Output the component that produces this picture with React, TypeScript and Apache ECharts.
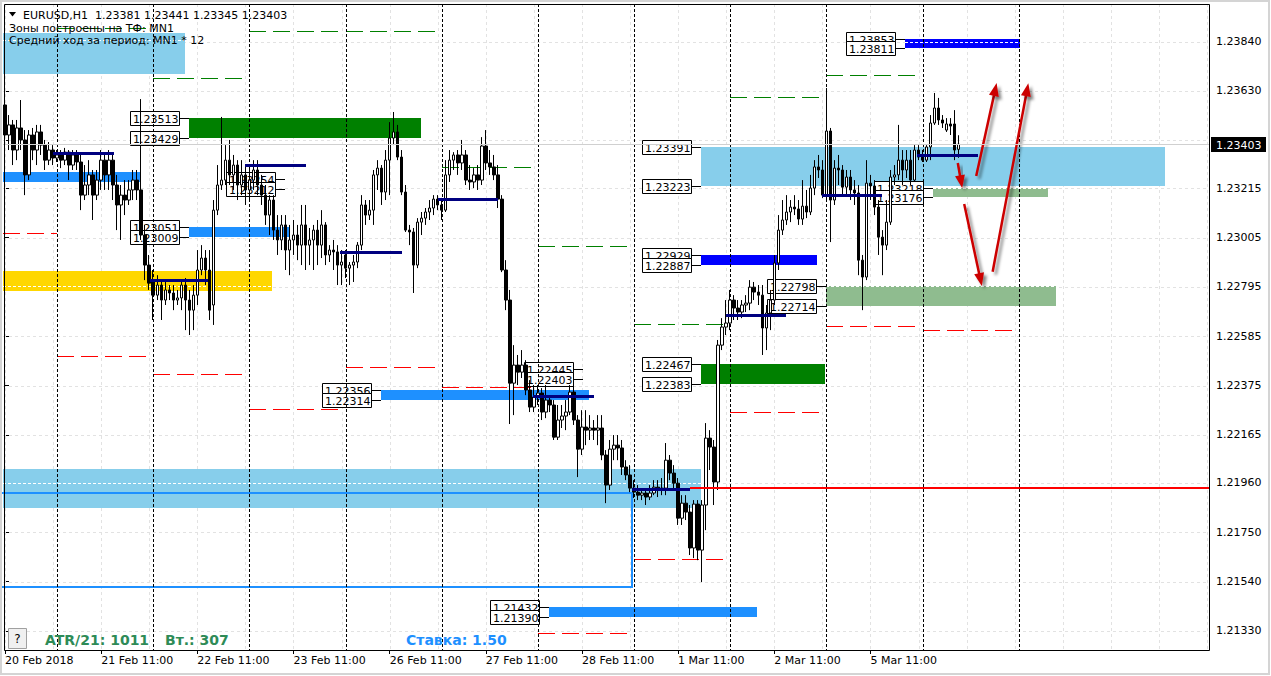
import React, { useEffect, useRef } from 'react';
import * as echarts from 'echarts';

// ---------- time axis ----------
const tradingDays = ['20 Feb', '21 Feb', '22 Feb', '23 Feb', '26 Feb', '27 Feb', '28 Feb', '1 Mar', '2 Mar', '5 Mar', '6 Mar'];
const firstDayStartHour = 11;
const lastDayEndHour = 9;
const emptyBarsRight = 62;
const timeLabels = ['20 Feb 2018', '21 Feb 11:00', '22 Feb 11:00', '23 Feb 11:00', '26 Feb 11:00', '27 Feb 11:00', '28 Feb 11:00', '1 Mar 11:00', '2 Mar 11:00', '5 Mar 11:00'];
const timeLabelBars = [0, 24, 48, 72, 96, 120, 144, 168, 192, 216];
const dayStartBars = [13, 37, 61, 85, 109, 133, 157, 181, 205, 229, 253];

// ---------- price axis ----------
const priceTicks = [1.2133, 1.2154, 1.2175, 1.2196, 1.22165, 1.22375, 1.22585, 1.22795, 1.23005, 1.23215, 1.2342, 1.2363, 1.2384];
const priceLabels = [1.2133, 1.2154, 1.2175, 1.2196, 1.22165, 1.22375, 1.22585, 1.22795, 1.23005, 1.23215, 1.2363, 1.2384];
const priceMin = 1.212485;
const priceMax = 1.24;

// ---------- EURUSD H1 candles: [open, close, low, high] ----------
const ohlc: number[][] = [
  [1.23570, 1.23442, 1.23357, 1.23642], [1.23442, 1.23485, 1.23378, 1.23527], [1.23485, 1.23378, 1.23314, 1.23506], [1.23378, 1.23472, 1.23335, 1.23506],
  [1.23472, 1.23421, 1.23378, 1.23591], [1.23421, 1.23272, 1.23186, 1.23463], [1.23272, 1.23442, 1.23250, 1.23463], [1.23442, 1.23378, 1.23335, 1.23472],
  [1.23378, 1.23455, 1.23314, 1.23485], [1.23455, 1.23399, 1.23357, 1.23485], [1.23399, 1.23335, 1.23293, 1.23421], [1.23335, 1.23378, 1.23314, 1.23412],
  [1.23378, 1.23344, 1.23314, 1.23399], [1.23344, 1.23357, 1.23327, 1.23378], [1.23357, 1.23335, 1.23301, 1.23378], [1.23335, 1.23369, 1.23314, 1.23387],
  [1.23369, 1.23314, 1.23250, 1.23378], [1.23314, 1.23357, 1.23293, 1.23378], [1.23357, 1.23327, 1.23293, 1.23378], [1.23327, 1.23186, 1.23122, 1.23357],
  [1.23186, 1.23229, 1.23165, 1.23314], [1.23229, 1.23272, 1.23186, 1.23335], [1.23272, 1.23186, 1.23080, 1.23293], [1.23186, 1.23250, 1.23165, 1.23293],
  [1.23250, 1.23335, 1.23208, 1.23378], [1.23335, 1.23272, 1.23208, 1.23357], [1.23272, 1.23335, 1.23208, 1.23378], [1.23335, 1.23229, 1.23165, 1.23357],
  [1.23229, 1.23144, 1.23037, 1.23272], [1.23144, 1.23186, 1.22995, 1.23229], [1.23186, 1.23165, 1.23101, 1.23250], [1.23165, 1.23208, 1.23144, 1.23250],
  [1.23208, 1.23250, 1.23165, 1.23293], [1.23250, 1.23208, 1.23165, 1.23293], [1.23208, 1.23016, 1.22995, 1.23595], [1.23016, 1.22888, 1.22824, 1.23059],
  [1.22888, 1.22811, 1.22782, 1.22931], [1.22824, 1.22760, 1.22654, 1.22867], [1.22760, 1.22803, 1.22739, 1.22845], [1.22803, 1.22739, 1.22654, 1.22824],
  [1.22739, 1.22782, 1.22718, 1.22816], [1.22782, 1.22769, 1.22739, 1.22803], [1.22769, 1.22739, 1.22696, 1.22803], [1.22739, 1.22748, 1.22718, 1.22782],
  [1.22748, 1.22803, 1.22696, 1.22824], [1.22803, 1.22739, 1.22611, 1.22833], [1.22739, 1.22696, 1.22590, 1.22782], [1.22696, 1.22760, 1.22611, 1.22803],
  [1.22760, 1.22867, 1.22718, 1.22952], [1.22867, 1.22918, 1.22845, 1.22973], [1.22918, 1.22867, 1.22803, 1.22952], [1.22867, 1.22696, 1.22654, 1.22952],
  [1.22718, 1.23122, 1.22633, 1.23165], [1.23122, 1.23229, 1.23101, 1.23314], [1.23229, 1.23250, 1.23208, 1.23519], [1.23250, 1.23335, 1.23229, 1.23399],
  [1.23335, 1.23272, 1.23229, 1.23421], [1.23272, 1.23314, 1.23208, 1.23357], [1.23314, 1.23229, 1.23165, 1.23335], [1.23229, 1.23272, 1.23186, 1.23335],
  [1.23272, 1.23208, 1.23144, 1.23314], [1.23208, 1.23250, 1.23165, 1.23314], [1.23250, 1.23293, 1.23208, 1.23335], [1.23293, 1.23229, 1.23186, 1.23335],
  [1.23229, 1.23186, 1.23144, 1.23272], [1.23186, 1.23101, 1.23059, 1.23229], [1.23101, 1.23165, 1.23016, 1.23186], [1.23165, 1.23037, 1.22995, 1.23186],
  [1.23037, 1.22995, 1.22931, 1.23101], [1.22995, 1.23059, 1.22952, 1.23101], [1.23059, 1.22952, 1.22867, 1.23101], [1.22952, 1.22995, 1.22845, 1.23059],
  [1.22995, 1.23016, 1.22931, 1.23080], [1.23016, 1.22973, 1.22909, 1.23059], [1.22973, 1.23059, 1.22888, 1.23144], [1.23059, 1.22973, 1.22867, 1.23144],
  [1.22973, 1.22995, 1.22888, 1.23046], [1.22995, 1.23037, 1.22867, 1.23059], [1.23037, 1.22973, 1.22888, 1.23080], [1.22973, 1.23059, 1.22918, 1.23122],
  [1.23059, 1.22931, 1.22888, 1.23071], [1.22931, 1.22952, 1.22901, 1.22973], [1.22952, 1.22944, 1.22867, 1.22995], [1.22944, 1.22888, 1.22803, 1.22973],
  [1.22888, 1.22901, 1.22803, 1.22952], [1.22931, 1.22875, 1.22833, 1.22952], [1.22875, 1.22888, 1.22803, 1.22901], [1.22888, 1.22901, 1.22816, 1.22931],
  [1.22901, 1.22973, 1.22875, 1.22986], [1.22973, 1.23144, 1.22952, 1.23186], [1.23144, 1.23101, 1.23059, 1.23165], [1.23101, 1.23122, 1.23080, 1.23165],
  [1.23122, 1.23272, 1.23059, 1.23293], [1.23272, 1.23301, 1.23208, 1.23335], [1.23301, 1.23199, 1.23144, 1.23314], [1.23199, 1.23335, 1.23165, 1.23378],
  [1.23335, 1.23429, 1.23186, 1.23497], [1.23429, 1.23455, 1.23399, 1.23540], [1.23455, 1.23348, 1.23335, 1.23485], [1.23348, 1.23199, 1.23186, 1.23378],
  [1.23199, 1.23037, 1.23029, 1.23229], [1.23037, 1.23029, 1.22973, 1.23059], [1.23029, 1.22888, 1.22769, 1.23046], [1.22888, 1.23071, 1.22875, 1.23088],
  [1.23071, 1.23088, 1.23016, 1.23114], [1.23088, 1.23114, 1.23059, 1.23131], [1.23114, 1.23131, 1.23080, 1.23165], [1.23131, 1.23169, 1.23101, 1.23186],
  [1.23169, 1.23144, 1.23122, 1.23186], [1.23144, 1.23122, 1.23080, 1.23174], [1.23122, 1.23272, 1.23114, 1.23335], [1.23272, 1.23335, 1.23242, 1.23378],
  [1.23335, 1.23357, 1.23293, 1.23369], [1.23357, 1.23323, 1.23272, 1.23378], [1.23323, 1.23357, 1.23293, 1.23421], [1.23357, 1.23250, 1.23229, 1.23378],
  [1.23250, 1.23242, 1.23208, 1.23314], [1.23242, 1.23272, 1.23216, 1.23301], [1.23272, 1.23250, 1.23208, 1.23314], [1.23250, 1.23395, 1.23229, 1.23433],
  [1.23395, 1.23323, 1.23293, 1.23463], [1.23323, 1.23306, 1.23272, 1.23378], [1.23306, 1.23272, 1.23250, 1.23357], [1.23272, 1.23169, 1.23131, 1.23314],
  [1.23169, 1.22867, 1.22858, 1.23186], [1.22867, 1.22739, 1.22696, 1.22909], [1.22739, 1.22385, 1.22211, 1.22782], [1.22385, 1.22462, 1.22249, 1.22547],
  [1.22462, 1.22432, 1.22377, 1.22505], [1.22432, 1.22462, 1.22407, 1.22526], [1.22462, 1.22356, 1.22334, 1.22483], [1.22356, 1.22283, 1.22262, 1.22398],
  [1.22283, 1.22326, 1.22262, 1.22377], [1.22326, 1.22343, 1.22292, 1.22377], [1.22343, 1.22262, 1.22228, 1.22364], [1.22262, 1.22313, 1.22236, 1.22377],
  [1.22313, 1.22292, 1.22262, 1.22334], [1.22292, 1.22155, 1.22143, 1.22313], [1.22155, 1.22228, 1.22143, 1.22292], [1.22228, 1.22245, 1.22194, 1.22292],
  [1.22245, 1.22262, 1.22185, 1.22313], [1.22262, 1.22347, 1.22249, 1.22377], [1.22347, 1.22228, 1.22207, 1.22398], [1.22228, 1.22104, 1.21985, 1.22249],
  [1.22104, 1.22198, 1.22079, 1.22270], [1.22198, 1.22185, 1.22121, 1.22270], [1.22185, 1.22194, 1.22143, 1.22249], [1.22194, 1.22185, 1.22143, 1.22228],
  [1.22185, 1.22194, 1.22121, 1.22249], [1.22194, 1.22079, 1.22057, 1.22249], [1.22079, 1.21951, 1.21874, 1.22100], [1.21951, 1.22104, 1.21930, 1.22143],
  [1.22104, 1.22121, 1.22057, 1.22164], [1.22121, 1.22109, 1.22057, 1.22164], [1.22109, 1.22028, 1.21994, 1.22143], [1.22028, 1.21994, 1.21972, 1.22057],
  [1.21994, 1.21938, 1.21921, 1.22036], [1.21938, 1.21921, 1.21896, 1.21972], [1.21921, 1.21908, 1.21887, 1.21951], [1.21908, 1.21917, 1.21887, 1.21938],
  [1.21917, 1.21900, 1.21866, 1.21938], [1.21900, 1.21917, 1.21887, 1.21951], [1.21917, 1.21942, 1.21908, 1.21972], [1.21942, 1.21930, 1.21900, 1.21972],
  [1.21930, 1.21938, 1.21908, 1.21981], [1.21938, 1.22057, 1.21908, 1.22130], [1.22057, 1.22002, 1.21972, 1.22079], [1.22002, 1.21959, 1.21930, 1.22036],
  [1.21959, 1.21810, 1.21781, 1.21981], [1.21810, 1.21874, 1.21781, 1.21908], [1.21874, 1.21836, 1.21802, 1.21908], [1.21836, 1.21683, 1.21653, 1.21866],
  [1.21683, 1.21870, 1.21640, 1.21887], [1.21870, 1.21674, 1.21631, 1.21887], [1.21674, 1.21866, 1.21538, 1.21887], [1.21866, 1.22151, 1.21759, 1.22215],
  [1.22151, 1.22113, 1.22015, 1.22185], [1.22113, 1.21964, 1.21866, 1.22143], [1.21964, 1.22547, 1.21930, 1.22569], [1.22547, 1.22624, 1.22526, 1.22662],
  [1.22624, 1.22641, 1.22590, 1.22739], [1.22641, 1.22739, 1.22611, 1.22782], [1.22739, 1.22705, 1.22654, 1.22760], [1.22705, 1.22688, 1.22654, 1.22739],
  [1.22688, 1.22718, 1.22662, 1.22739], [1.22718, 1.22726, 1.22688, 1.22760], [1.22726, 1.22794, 1.22696, 1.22824], [1.22794, 1.22773, 1.22739, 1.22816],
  [1.22773, 1.22760, 1.22718, 1.22803], [1.22760, 1.22620, 1.22505, 1.22803], [1.22620, 1.22684, 1.22526, 1.22718], [1.22684, 1.22739, 1.22611, 1.22782],
  [1.22739, 1.22897, 1.22718, 1.22931], [1.22897, 1.23037, 1.22867, 1.23101], [1.23037, 1.23080, 1.23016, 1.23165], [1.23080, 1.23114, 1.23059, 1.23186],
  [1.23114, 1.23135, 1.23071, 1.23165], [1.23135, 1.23127, 1.23101, 1.23186], [1.23127, 1.23084, 1.23059, 1.23165], [1.23084, 1.23139, 1.23059, 1.23250],
  [1.23139, 1.23114, 1.23088, 1.23208], [1.23114, 1.23216, 1.23101, 1.23272], [1.23216, 1.23306, 1.23186, 1.23335], [1.23306, 1.23293, 1.23259, 1.23357],
  [1.23293, 1.23186, 1.23174, 1.23335], [1.23186, 1.23459, 1.23165, 1.23642], [1.23459, 1.23165, 1.22986, 1.23472], [1.23165, 1.23301, 1.23144, 1.23335],
  [1.23301, 1.23293, 1.23229, 1.23357], [1.23293, 1.23220, 1.23186, 1.23314], [1.23220, 1.23263, 1.23186, 1.23293], [1.23263, 1.23208, 1.23165, 1.23293],
  [1.23208, 1.23195, 1.23144, 1.23250], [1.23195, 1.22909, 1.22845, 1.23229], [1.22909, 1.22837, 1.22696, 1.22931], [1.22837, 1.23237, 1.22824, 1.23335],
  [1.23237, 1.23225, 1.23165, 1.23272], [1.23225, 1.23135, 1.23101, 1.23250], [1.23135, 1.23007, 1.22931, 1.23165], [1.23007, 1.22973, 1.22845, 1.23037],
  [1.22973, 1.23071, 1.22952, 1.23165], [1.23071, 1.23263, 1.23059, 1.23293], [1.23263, 1.23272, 1.23229, 1.23314], [1.23272, 1.23335, 1.23250, 1.23485],
  [1.23335, 1.23293, 1.23229, 1.23378], [1.23293, 1.23335, 1.23259, 1.23378], [1.23335, 1.23250, 1.23229, 1.23378], [1.23250, 1.23378, 1.23242, 1.23399],
  [1.23378, 1.23348, 1.23335, 1.23399], [1.23348, 1.23335, 1.23327, 1.23378], [1.23335, 1.23391, 1.23327, 1.23399], [1.23391, 1.23493, 1.23335, 1.23527],
  [1.23493, 1.23557, 1.23485, 1.23621], [1.23557, 1.23506, 1.23485, 1.23600], [1.23506, 1.23493, 1.23472, 1.23527], [1.23463, 1.23489, 1.23455, 1.23514],
  [1.23489, 1.23480, 1.23442, 1.23514], [1.23489, 1.23378, 1.23335, 1.23548], [1.23381, 1.23403, 1.23345, 1.23441],
];

// ---------- zones (bar index range, price range) ----------
type Zone = { from: number; to: number; top: number; bottom: number; kind: string; mark?: number };
const zones: Zone[] = [
  { from: -0.5, to: 44.9, top: 1.23876, bottom: 1.23702, kind: 'sky', mark: 1.23847 },
  { from: -0.5, to: 173.6, top: 1.22019, bottom: 1.21853, kind: 'sky', mark: 1.21958 },
  { from: 173.7, to: 289.5, top: 1.23391, bottom: 1.23223, kind: 'sky' },
  { from: -0.5, to: 66.6, top: 1.22863, bottom: 1.22777, kind: 'gold', mark: 1.22797 },
  { from: -0.5, to: 33.9, top: 1.23285, bottom: 1.23243, kind: 'dodger' },
  { from: 45.9, to: 103.8, top: 1.23513, bottom: 1.23429, kind: 'green' },
  { from: 45.9, to: 71.1, top: 1.23051, bottom: 1.23009, kind: 'dodger' },
  { from: 93.8, to: 145.8, top: 1.22356, bottom: 1.22314, kind: 'dodger' },
  { from: 135.8, to: 187.7, top: 1.21432, bottom: 1.2139, kind: 'dodger' },
  { from: 173.7, to: 204.7, top: 1.22467, bottom: 1.22383, kind: 'green' },
  { from: 173.7, to: 202.7, top: 1.22929, bottom: 1.22887, kind: 'blue' },
  { from: 224.6, to: 253.3, top: 1.23853, bottom: 1.23811, kind: 'blue', mark: 1.23839 },
  { from: 231.6, to: 260.3, top: 1.23218, bottom: 1.23176, kind: 'sea', mark: 1.23218 },
  { from: 204.9, to: 262.3, top: 1.22798, bottom: 1.22714, kind: 'sea', mark: 1.22798 },
];

// price tag pairs attached at a bar index
const tagAt = [45.9, 45.9, 69.9, 93.8, 144.3, 135.8, 173.7, 173.7, 173.7, 204.9, 224.6, 231.6];
const tagTop = [1.23513, 1.23051, 1.23254, 1.22356, 1.22445, 1.21432, 1.23391, 1.22929, 1.22467, 1.22798, 1.23853, 1.23218];
const tagBottom = [1.23429, 1.23009, 1.23212, 1.22314, 1.22403, 1.2139, 1.23223, 1.22887, 1.22383, 1.22714, 1.23811, 1.23176];

// daily high / low projections
const levelFrom = [-0.5, 13, 37, 61, 85, 109, 133, 157, 181, 205, 229];
const levelTo = [13, 35.5, 59.5, 83.5, 107.5, 131.5, 155.5, 179.5, 203.5, 227.5, 251.5];
const levelHigh = [null, 1.23898, 1.23686, 1.23885, 1.23885, 1.23304, 1.22969, 1.22635, 1.23602, 1.23696, null];
const levelLow = [1.23024, 1.225, 1.22424, 1.22273, 1.22452, 1.22367, 1.21319, 1.21634, 1.22261, 1.22627, 1.22611];

// daily pivots (navy)
const pivotFrom = [12, 36.2, 59.9, 83.6, 108.1, 131.8, 156.5, 180, 203.9, 227.6];
const pivotTo = [27.2, 50.7, 75.1, 99.1, 123, 147, 171, 194.9, 218.9, 242.8];
const pivotPrice = [1.23364, 1.22824, 1.23314, 1.22942, 1.23168, 1.2233, 1.21934, 1.22676, 1.23186, 1.23357];

// monthly level line and box
const redLevel = { from: 171, to: 300.5, price: 1.21939 };
const boxOutline = { from: -0.5, to: 156.6, top: 1.21918, bottom: 1.21516 };

// forecast arrows [fromBar, fromPrice, toBar, toPrice]
const arrows = [
  [237.8, 1.23323, 238.9, 1.23216],
  [239.4, 1.23148, 243.8, 1.22799],
  [242.4, 1.23267, 247.5, 1.23663],
  [246.5, 1.2286, 255.4, 1.23662],
];

const headerLine1 = 'EURUSD,H1  1.23381 1.23441 1.23345 1.23403';
const headerLine2 = 'Зоны построены на ТФ: MN1';
const headerLine3 = 'Средний ход за период: MN1 * 12';
const atrText = 'ATR/21: 1011';
const dayRangeText = 'Вт.: 307';
const rateText = 'Ставка: 1.50';

const zoneFill: Record<string, string> = {
  sky: '#87CEEB', gold: '#FFD700', dodger: '#1E90FF', green: '#008000', blue: '#0000FF', sea: '#8FBC8F',
};
const FONT = '11px "DejaVu Sans"';

const categories: string[] = [];
tradingDays.forEach((d, di) => {
  const h0 = di === 0 ? firstDayStartHour : 0;
  const h1 = di === tradingDays.length - 1 ? lastDayEndHour : 23;
  for (let h = h0; h <= h1; h++) categories.push(`${d} ${String(h).padStart(2, '0')}:00`);
});
const barCount = categories.length;
for (let i = 0; i < emptyBarsRight; i++) categories.push('');
const N = categories.length;
const labelSet = new Set(timeLabelBars);

const r = (v: number) => Math.round(v) + 0.5;

export default function App() {
  const ref = useRef<HTMLDivElement>(null);
  useEffect(() => {
    document.body.style.margin = '0';
    const chart = echarts.init(ref.current!, null, { renderer: 'svg' });
    const lastClose = ohlc[ohlc.length - 1][1];

    const custom = (name: string, data: any[], z: number, renderItem: any) => ({
      type: 'custom', name, xAxisIndex: 1, yAxisIndex: 0, data, z, silent: true, clip: false, renderItem,
    });

    const option: any = {
      animation: false,
      textStyle: { fontFamily: 'DejaVu Sans' },
      grid: { left: 3, right: 62, top: 4, bottom: 26, show: false },
      xAxis: [
        {
          type: 'category', data: categories, boundaryGap: true,
          axisLine: { show: false },
          axisTick: { show: true, alignWithLabel: true, length: 4, interval: (i: number) => labelSet.has(i), lineStyle: { color: '#000' } },
          axisLabel: {
            show: true, interval: (i: number) => labelSet.has(i),
            formatter: (_v: string, i: number) => timeLabels[timeLabelBars.indexOf(i)] ?? '',
            align: 'left', margin: 5, color: '#000', fontSize: 11, fontFamily: 'DejaVu Sans',
          },
          splitLine: { show: false },
        },
        { type: 'value', min: -0.5, max: N - 0.5, show: false },
      ],
      yAxis: {
        type: 'value', position: 'right', min: priceMin, max: priceMax,
        axisLine: { show: false },
        axisTick: { show: true, length: 4, customValues: priceTicks, lineStyle: { color: '#000' } },
        axisLabel: { customValues: priceLabels, formatter: (v: number) => v.toFixed(5), margin: 7, color: '#000', fontSize: 11, fontFamily: 'DejaVu Sans' },
        splitLine: { show: false },
      },
      series: [
        custom('grid', [[0, priceMin]], 1, (params: any, api: any) => {
          const cs = params.coordSys;
          const ch: any[] = [];
          priceTicks.forEach((p) => {
            const y = r(api.coord([0, p])[1]);
            ch.push({ type: 'line', shape: { x1: cs.x, y1: y, x2: cs.x + cs.width, y2: y }, style: { stroke: '#e2e2e2', lineWidth: 1, lineDash: [3, 3] } });
          });
          for (let i = 0; i < N; i += 12) {
            const x = r(api.coord([i, priceMin])[0]);
            ch.push({ type: 'line', shape: { x1: x, y1: cs.y, x2: x, y2: cs.y + cs.height }, style: { stroke: '#e2e2e2', lineWidth: 1, lineDash: [3, 3] } });
          }
          return { type: 'group', children: ch };
        }),
        custom('zones', zones.map((z) => [z.from, z.top, z.to, z.bottom]), 2, (params: any, api: any) => {
          const z = zones[params.dataIndex];
          const a = api.coord([z.from, z.top]);
          const b = api.coord([z.to, z.bottom]);
          const x = Math.round(a[0]), y = Math.round(a[1]);
          const w = Math.round(b[0]) - x, h = Math.round(b[1]) - y;
          const ch: any[] = [{ type: 'rect', shape: { x, y, width: w, height: h }, style: { fill: zoneFill[z.kind] } }];
          if (z.mark != null) {
            const ym = r(api.coord([z.from, z.mark])[1]);
            ch.push({ type: 'line', shape: { x1: x, y1: ym, x2: x + w, y2: ym }, style: { stroke: '#ffffff', lineWidth: 1, lineDash: [3, 2] } });
          }
          return { type: 'group', children: ch };
        }),
        custom('levels', levelFrom.map((f, i) => [f, levelLow[i]]), 3, (params: any, api: any) => {
          const i = params.dataIndex;
          const x1 = Math.round(api.coord([levelFrom[i], priceMin])[0]);
          const x2 = Math.round(api.coord([levelTo[i], priceMin])[0]);
          const ch: any[] = [];
          const hi = levelHigh[i];
          if (hi != null) {
            const y = r(api.coord([0, hi])[1]);
            ch.push({ type: 'line', shape: { x1, y1: y, x2, y2: y }, style: { stroke: '#008000', lineWidth: 1, lineDash: [17, 7] } });
          }
          const y = r(api.coord([0, levelLow[i]])[1]);
          ch.push({ type: 'line', shape: { x1, y1: y, x2, y2: y }, style: { stroke: '#FF0000', lineWidth: 1, lineDash: [17, 7] } });
          return { type: 'group', children: ch };
        }),
        custom('box', [[boxOutline.from, boxOutline.top]], 3, (_p: any, api: any) => {
          const a = api.coord([boxOutline.from, boxOutline.top]);
          const b = api.coord([boxOutline.to, boxOutline.bottom]);
          const x1 = Math.round(a[0]) - 2, y1 = Math.round(a[1]), x2 = Math.round(b[0]), y2 = Math.round(b[1]);
          return { type: 'polyline', shape: { points: [[x1, y1], [x2, y1], [x2, y2], [x1, y2]] }, style: { stroke: '#1E90FF', lineWidth: 2, fill: 'none' } };
        }),
        custom('tags', tagAt.map((a, i) => [a, tagTop[i]]), 4, (params: any, api: any) => {
          const i = params.dataIndex;
          const xz = Math.round(api.coord([tagAt[i], priceMin])[0]);
          const ch: any[] = [];
          [tagTop[i], tagBottom[i]].forEach((p) => {
            const y = Math.round(api.coord([0, p])[1]);
            const bx = xz - 59;
            ch.push({ type: 'line', shape: { x1: xz - 10, y1: y + 0.5, x2: xz, y2: y + 0.5 }, style: { stroke: '#000', lineWidth: 1 } });
            ch.push({ type: 'rect', shape: { x: bx + 0.5, y: y - 7 + 0.5, width: 49, height: 14 }, style: { fill: '#fff', stroke: '#000', lineWidth: 1 } });
            ch.push({ type: 'text', x: bx + 3, y: y + 1, style: { text: p.toFixed(5), fill: '#000', font: FONT, align: 'left', verticalAlign: 'middle', textAlign: 'left', textVerticalAlign: 'middle' } });
          });
          return { type: 'group', children: ch };
        }),
        custom('separators', dayStartBars.map((b) => [b, priceMin]), 5, (params: any, api: any) => {
          const cs = params.coordSys;
          const x = r(api.coord([dayStartBars[params.dataIndex], priceMin])[0]);
          return { type: 'line', shape: { x1: x, y1: cs.y, x2: x, y2: cs.y + cs.height }, style: { stroke: '#000', lineWidth: 1, lineDash: [3, 2] } };
        }),
        {
          type: 'candlestick', name: 'EURUSD,H1', xAxisIndex: 0, yAxisIndex: 0, data: ohlc, barWidth: 3, z: 6, silent: true,
          itemStyle: { color: '#ffffff', color0: '#000000', borderColor: '#000000', borderColor0: '#000000', borderWidth: 1 },
        },
        custom('pivots', pivotFrom.map((f, i) => [f, pivotPrice[i]]), 7, (params: any, api: any) => {
          const i = params.dataIndex;
          const a = api.coord([pivotFrom[i], pivotPrice[i]]);
          const b = api.coord([pivotTo[i], pivotPrice[i]]);
          const y = Math.round(a[1]) + 0.5;
          return { type: 'line', shape: { x1: Math.round(a[0]), y1: y, x2: Math.round(b[0]), y2: y }, style: { stroke: '#000080', lineWidth: 3 } };
        }),
        custom('monthLevel', [[redLevel.from, redLevel.price]], 7, (_p: any, api: any) => {
          const a = api.coord([redLevel.from, redLevel.price]);
          const b = api.coord([redLevel.to, redLevel.price]);
          const y = Math.round(a[1]);
          return { type: 'line', shape: { x1: Math.round(a[0]), y1: y, x2: Math.round(b[0]), y2: y }, style: { stroke: '#FF0000', lineWidth: 2 } };
        }),
        custom('arrows', arrows, 8, (params: any, api: any) => {
          const a = arrows[params.dataIndex];
          const [x1, y1] = api.coord([a[0], a[1]]);
          const [x2, y2] = api.coord([a[2], a[3]]);
          const dx = x2 - x1, dy = y2 - y1, len = Math.hypot(dx, dy);
          const ux = dx / len, uy = dy / len, hl = 13, hw = 5;
          const bx = x2 - ux * hl, by = y2 - uy * hl;
          const px = -uy, py = ux;
          const shadow = { shadowBlur: 3, shadowColor: 'rgba(0,0,0,0.45)', shadowOffsetX: 3, shadowOffsetY: 3 };
          return {
            type: 'group', children: [
              { type: 'line', shape: { x1, y1, x2: bx + ux * 2, y2: by + uy * 2 }, style: { stroke: '#CC0000', lineWidth: 2.5, ...shadow } },
              { type: 'polygon', shape: { points: [[x2, y2], [bx + px * hw, by + py * hw], [bx - px * hw, by - py * hw]] }, style: { fill: '#CC0000', ...shadow } },
            ],
          };
        }),
        custom('priceTag', [[barCount - 1, lastClose]], 9, (params: any, api: any) => {
          const cs = params.coordSys;
          const y = Math.round(api.coord([0, lastClose])[1]);
          const bx = cs.x + cs.width + 2;
          return {
            type: 'group', children: [
              { type: 'line', shape: { x1: cs.x, y1: y + 0.5, x2: cs.x + cs.width, y2: y + 0.5 }, style: { stroke: '#d0d0d0', lineWidth: 1 } },
              { type: 'rect', shape: { x: bx, y: y - 7, width: 55, height: 15 }, style: { fill: '#000' } },
              { type: 'text', x: bx + 5, y: y + 1, style: { text: lastClose.toFixed(5), fill: '#fff', font: FONT, align: 'left', verticalAlign: 'middle', textAlign: 'left', textVerticalAlign: 'middle' } },
            ],
          };
        }),
      ],
      graphic: [
        { type: 'rect', z: 99, silent: true, shape: { x: 1, y: 1, width: 1268, height: 673 }, style: { fill: 'none', stroke: '#d4d4d4', lineWidth: 2 } },
        { type: 'rect', z: 100, silent: true, shape: { x: 4.5, y: 4.5, width: 1205, height: 646 }, style: { fill: 'none', stroke: '#000', lineWidth: 1 } },
        { type: 'polygon', z: 100, silent: true, shape: { points: [[9, 12], [16, 12], [12.5, 16.5]] }, style: { fill: '#000' } },
        { type: 'text', z: 100, silent: true, x: 23, y: 15, style: { text: headerLine1, font: FONT, fill: '#000', textVerticalAlign: 'middle', verticalAlign: 'middle' } },
        { type: 'text', z: 100, silent: true, x: 9, y: 28, style: { text: headerLine2, font: FONT, fill: '#000', textVerticalAlign: 'middle', verticalAlign: 'middle' } },
        { type: 'text', z: 100, silent: true, x: 9, y: 40, style: { text: headerLine3, font: FONT, fill: '#000', textVerticalAlign: 'middle', verticalAlign: 'middle' } },
        { type: 'rect', z: 100, silent: true, shape: { x: 8.5, y: 628.5, width: 18, height: 20 }, style: { fill: '#f0f0f0', stroke: '#a0a0a0', lineWidth: 1 } },
        { type: 'text', z: 101, silent: true, x: 17.5, y: 639, style: { text: '?', font: '12px "DejaVu Sans"', fill: '#000', textAlign: 'center', align: 'center', textVerticalAlign: 'middle', verticalAlign: 'middle' } },
        { type: 'text', z: 100, silent: true, x: 45, y: 640, style: { text: atrText, font: 'bold 14px "DejaVu Sans"', fill: '#2E8B57', textVerticalAlign: 'middle', verticalAlign: 'middle' } },
        { type: 'text', z: 100, silent: true, x: 165, y: 640, style: { text: dayRangeText, font: 'bold 14px "DejaVu Sans"', fill: '#2E8B57', textVerticalAlign: 'middle', verticalAlign: 'middle' } },
        { type: 'text', z: 100, silent: true, x: 406, y: 640, style: { text: rateText, font: 'bold 14px "DejaVu Sans"', fill: '#1E90FF', textVerticalAlign: 'middle', verticalAlign: 'middle' } },
      ],
    };
    chart.setOption(option);
    return () => chart.dispose();
  }, []);
  return <div ref={ref} style={{ width: 1271, height: 676 }} />;
}
